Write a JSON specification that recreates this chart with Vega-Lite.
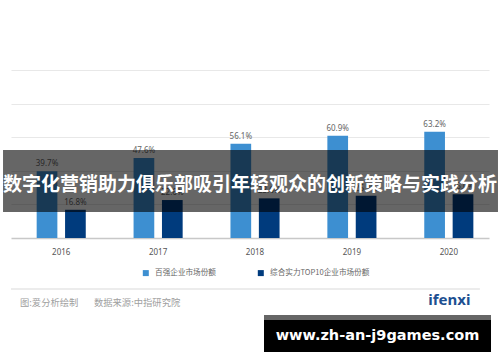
{
  "$schema": "https://vega.github.io/schema/vega-lite/v6.json",
  "width": 478,
  "height": 168,
  "autosize": {"type": "none"},
  "padding": {"left": 11, "top": 70, "right": 11, "bottom": 124},
  "background": "#ffffff",
  "config": {"view": {"stroke": null}, "font": "Noto Sans CJK SC"},
  "resolve": {"scale": {"x": "independent", "y": "independent", "color": "independent"}},
  "layer": [
    {
      "data": {
        "values": [
          {"year": "2016", "series": "百强企业市场份额", "value": 39.7, "label": "39.7%"},
          {"year": "2016", "series": "综合实力TOP10企业市场份额", "value": 16.8, "label": "16.8%"},
          {"year": "2017", "series": "百强企业市场份额", "value": 47.6, "label": "47.6%"},
          {"year": "2017", "series": "综合实力TOP10企业市场份额", "value": 22.6, "label": "22.6%"},
          {"year": "2018", "series": "百强企业市场份额", "value": 56.1, "label": "56.1%"},
          {"year": "2018", "series": "综合实力TOP10企业市场份额", "value": 23.6, "label": "23.6%"},
          {"year": "2019", "series": "百强企业市场份额", "value": 60.9, "label": "60.9%"},
          {"year": "2019", "series": "综合实力TOP10企业市场份额", "value": 25.2, "label": "25.2%"},
          {"year": "2020", "series": "百强企业市场份额", "value": 63.2, "label": "63.2%"},
          {"year": "2020", "series": "综合实力TOP10企业市场份额", "value": 26.0, "label": "26.0%"}
        ]
      },
      "encoding": {
        "x": {
          "field": "year", "type": "nominal",
          "scale": {"paddingInner": 0.3, "paddingOuter": 0.1165, "align": 0.722},
          "axis": {"title": null, "labelAngle": 0, "ticks": false, "domainColor": "#c8c8c8", "domainWidth": 1.5,
                   "labelFontSize": 8, "labelColor": "#555555", "labelPadding": 10, "labelFont": "Noto Sans"}
        },
        "xOffset": {
          "field": "series", "type": "nominal",
          "sort": ["百强企业市场份额", "综合实力TOP10企业市场份额"],
          "scale": {"paddingInner": 0.271, "paddingOuter": 0.33}
        },
        "y": {
          "field": "value", "type": "quantitative",
          "scale": {"domain": [0, 100], "nice": false},
          "axis": {"title": null, "values": [20, 40, 60, 80, 100], "labels": false, "ticks": false, "domain": false,
                   "grid": true, "gridColor": "#e8e8e8", "gridWidth": 1.2}
        }
      },
      "layer": [
        {
          "mark": {"type": "bar"},
          "encoding": {
            "color": {
              "field": "series", "type": "nominal",
              "scale": {"domain": ["百强企业市场份额", "综合实力TOP10企业市场份额"], "range": ["#3d8fd1", "#003b7d"]},
              "legend": {"orient": "none", "legendX": 131, "legendY": 199, "direction": "horizontal", "title": null,
                         "symbolType": "square", "symbolSize": 36, "symbolStrokeWidth": 0, "labelFontSize": 7.6,
                         "labelColor": "#666666", "columnPadding": 41, "labelOffset": 5.5, "padding": 0}
            }
          }
        },
        {
          "mark": {"type": "text", "baseline": "bottom", "dy": -3, "fontSize": 8, "color": "#666666", "font": "Noto Sans"},
          "encoding": {"text": {"field": "label"}}
        }
      ]
    },
    {
      "layer": [
        {
          "data": {"values": [{"x1": -0.0167, "x2": 1.0188, "y1": 52.38, "y2": 15.48}]},
          "mark": {"type": "rect", "fill": "#000000", "opacity": 0.6},
          "encoding": {
            "x": {"field": "x1", "type": "quantitative", "scale": {"domain": [0, 1], "nice": false, "zero": false}, "axis": null},
            "x2": {"field": "x2"},
            "y": {"field": "y1", "type": "quantitative", "scale": {"domain": [0, 100], "nice": false}, "axis": null},
            "y2": {"field": "y2"}
          }
        },
        {
          "data": {"values": [{"x": 0.5, "y": 31.5, "t": "数字化营销助力俱乐部吸引年轻观众的创新策略与实践分析"}]},
          "mark": {"type": "text", "fontSize": 19, "fontWeight": "bold", "color": "#ffffff", "align": "center", "baseline": "middle"},
          "encoding": {
            "x": {"field": "x", "type": "quantitative", "scale": {"domain": [0, 1], "nice": false, "zero": false}, "axis": null},
            "y": {"field": "y", "type": "quantitative", "scale": {"domain": [0, 100], "nice": false}, "axis": null},
            "text": {"field": "t"}
          }
        },
        {
          "data": {"values": [{"x1": 0, "x2": 0.981, "y": -30.36}]},
          "mark": {"type": "rule", "color": "#e6e6e6", "strokeWidth": 1.5},
          "encoding": {
            "x": {"field": "x1", "type": "quantitative", "scale": {"domain": [0, 1], "nice": false, "zero": false}, "axis": null},
            "x2": {"field": "x2"},
            "y": {"field": "y", "type": "quantitative", "scale": {"domain": [0, 100], "nice": false}, "axis": null}
          }
        },
        {
          "data": {"values": [
            {"x": 0.0188, "y": -38.9, "t": "图:爱分析绘制"},
            {"x": 0.1736, "y": -38.9, "t": "数据来源:中指研究院"}
          ]},
          "mark": {"type": "text", "fontSize": 9.3, "color": "#a0a0a0", "align": "left", "baseline": "middle"},
          "encoding": {
            "x": {"field": "x", "type": "quantitative", "scale": {"domain": [0, 1], "nice": false, "zero": false}, "axis": null},
            "y": {"field": "y", "type": "quantitative", "scale": {"domain": [0, 100], "nice": false}, "axis": null},
            "text": {"field": "t"}
          }
        },
        {
          "data": {"values": [{"x": 0.917, "y": -37.2, "t": "ifenxi"}]},
          "mark": {"type": "text", "fontSize": 15, "fontWeight": "bold", "color": "#1d4f91", "align": "center", "baseline": "middle", "font": "Noto Sans"},
          "encoding": {
            "x": {"field": "x", "type": "quantitative", "scale": {"domain": [0, 1], "nice": false, "zero": false}, "axis": null},
            "y": {"field": "y", "type": "quantitative", "scale": {"domain": [0, 100], "nice": false}, "axis": null},
            "text": {"field": "t"}
          }
        },
        {
          "data": {"values": [{"x1": 0.5293, "x2": 1.0042, "y1": -45.83, "y2": -48.81}]},
          "mark": {"type": "rect", "fill": "#666666"},
          "encoding": {
            "x": {"field": "x1", "type": "quantitative", "scale": {"domain": [0, 1], "nice": false, "zero": false}, "axis": null},
            "x2": {"field": "x2"},
            "y": {"field": "y1", "type": "quantitative", "scale": {"domain": [0, 100], "nice": false}, "axis": null},
            "y2": {"field": "y2"}
          }
        },
        {
          "data": {"values": [{"x1": 0.5293, "x2": 1.0042, "y1": -48.81, "y2": -67.86}]},
          "mark": {"type": "rect", "fill": "#000000"},
          "encoding": {
            "x": {"field": "x1", "type": "quantitative", "scale": {"domain": [0, 1], "nice": false, "zero": false}, "axis": null},
            "x2": {"field": "x2"},
            "y": {"field": "y1", "type": "quantitative", "scale": {"domain": [0, 100], "nice": false}, "axis": null},
            "y2": {"field": "y2"}
          }
        },
        {
          "data": {"values": [{"x": 0.7667, "y": -58.3, "t": "www.zh-an-j9games.com"}]},
          "mark": {"type": "text", "fontSize": 14.5, "fontWeight": "bold", "color": "#ffffff", "align": "center", "baseline": "middle", "font": "DejaVu Sans"},
          "encoding": {
            "x": {"field": "x", "type": "quantitative", "scale": {"domain": [0, 1], "nice": false, "zero": false}, "axis": null},
            "y": {"field": "y", "type": "quantitative", "scale": {"domain": [0, 100], "nice": false}, "axis": null},
            "text": {"field": "t"}
          }
        }
      ]
    }
  ]
}
